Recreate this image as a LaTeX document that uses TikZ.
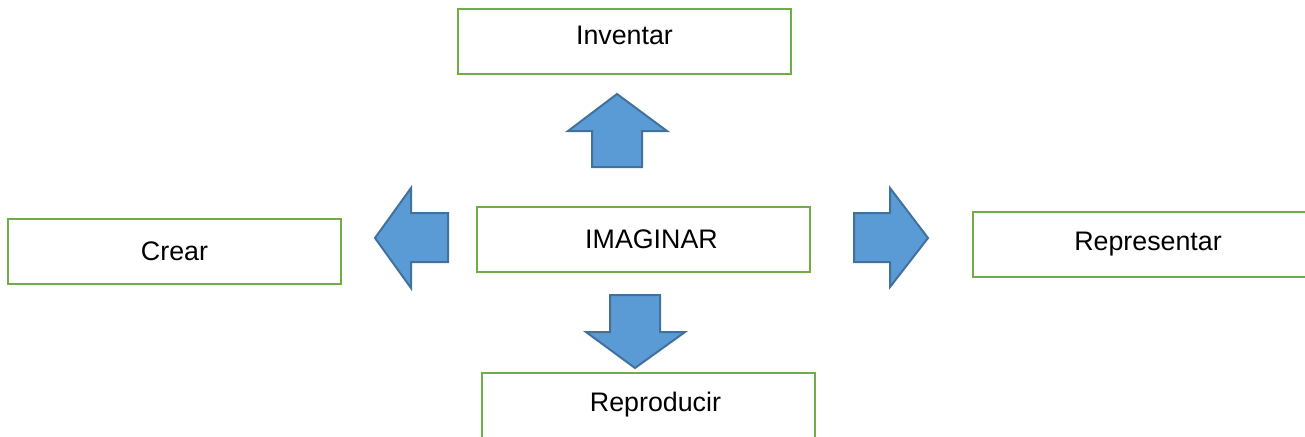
\documentclass[tikz,border=0pt]{standalone}
\usepackage{fontspec}
\setmainfont{Liberation Sans}
\definecolor{boxgreen}{RGB}{112,173,71}
\definecolor{arrowfill}{RGB}{91,155,213}
\definecolor{arrowline}{RGB}{65,113,156}
\tikzset{
  textbox/.style={draw=boxgreen, line width=1pt, fill=white, minimum width=166.5pt, minimum height=32.5pt, inner sep=0pt, font=\fontsize{13.4}{16}\selectfont},
  blockarrow/.style={fill=arrowfill, draw=arrowline, line width=1pt, line join=miter}
}
\begin{document}
\begin{tikzpicture}[x=0.5pt, y=-0.5pt]
\useasboundingbox (0,0) rectangle (1305,436);
\clip (0,0) rectangle (1305,436);

\node [textbox] (imaginar) at (643.5,239) {\hspace*{8pt}IMAGINAR};
\node [textbox, text depth=5.5pt] (inventar) at (624.5,41) {Inventar};
\node [textbox] (crear) at (174.5,251) {Crear};
\node [textbox, minimum width=175pt] (representar) at (1148,244.5) {Representar};
\node [textbox] (reproducir) at (648.5,405) {\hspace*{7pt}Reproducir};

% up
\draw [blockarrow] (592,167) -- (592,131) -- (568,131) -- (617,94) -- (667,131) -- (642,131) -- (642,167) -- cycle;
% left
\draw [blockarrow] (448,213) -- (411,213) -- (411,188) -- (375,238) -- (411,288) -- (411,262) -- (448,262) -- cycle;
% right
\draw [blockarrow] (854,213) -- (890,213) -- (890,188) -- (928,238) -- (890,287) -- (890,262) -- (854,262) -- cycle;
% down
\draw [blockarrow] (610,295) -- (660,295) -- (660,332) -- (685,332) -- (635,368) -- (586,332) -- (610,332) -- cycle;
\end{tikzpicture}
\end{document}
